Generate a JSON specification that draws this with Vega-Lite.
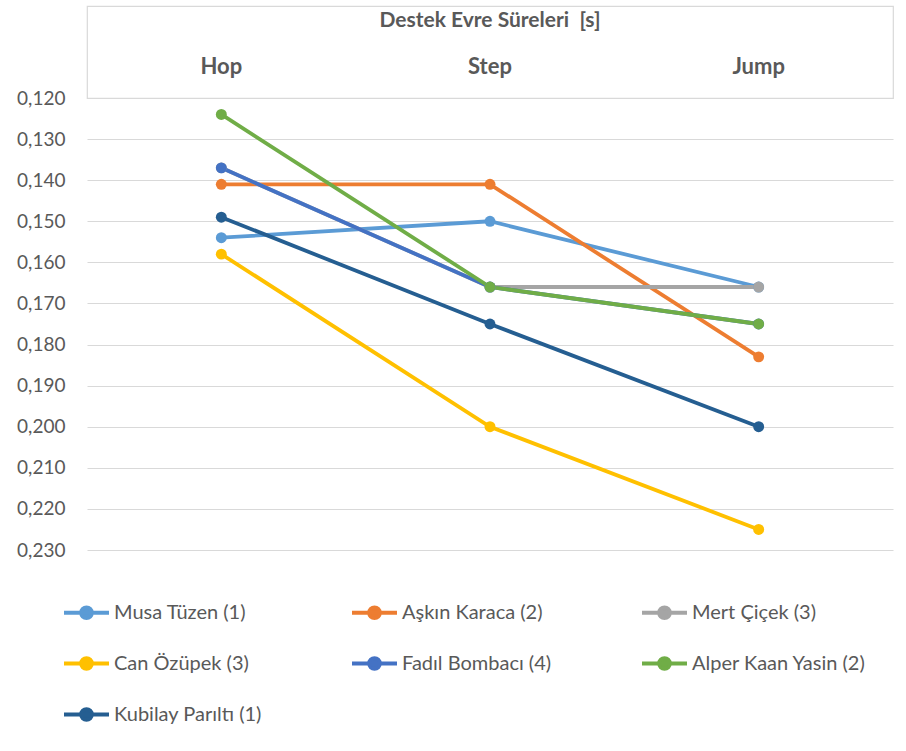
{
  "$schema": "https://vega.github.io/schema/vega-lite/v6.json",
  "padding": {"left": 16, "top": 5, "right": 0, "bottom": 0},
  "background": "white",
  "spacing": 0,
  "bounds": "flush",
  "config": {
    "font": "Lato",
    "view": {"stroke": null},
    "text": {"font": "Lato"}
  },
  "vconcat": [
    {
      "width": 806,
      "height": 92,
      "view": {"stroke": "#d9d9d9", "strokeWidth": 1.2},
      "title": {"text": "Destek Evre Süreleri \u00a0[s]", "fontSize": 21, "fontWeight": "bold", "color": "#595959", "font": "Lato", "offset": -25, "anchor": "middle"},
      "data": {"values": [{"phase": "Hop"}, {"phase": "Step"}, {"phase": "Jump"}]},
      "mark": {"type": "text", "fontSize": 22, "fontWeight": "bold", "color": "#595959", "dy": 15},
      "encoding": {
        "x": {"field": "phase", "type": "nominal", "sort": ["Hop", "Step", "Jump"], "scale": {"type": "point", "padding": 0.5}, "axis": null},
        "text": {"field": "phase"}
      }
    },
    {
      "width": 806,
      "height": 452,
      "data": {"values": [
        {"athlete": "Musa Tüzen (1)", "phase": "Hop", "value": 0.154},
        {"athlete": "Musa Tüzen (1)", "phase": "Step", "value": 0.150},
        {"athlete": "Musa Tüzen (1)", "phase": "Jump", "value": 0.166},
        {"athlete": "Aşkın Karaca (2)", "phase": "Hop", "value": 0.141},
        {"athlete": "Aşkın Karaca (2)", "phase": "Step", "value": 0.141},
        {"athlete": "Aşkın Karaca (2)", "phase": "Jump", "value": 0.183},
        {"athlete": "Mert Çiçek (3)", "phase": "Hop", "value": 0.137},
        {"athlete": "Mert Çiçek (3)", "phase": "Step", "value": 0.166},
        {"athlete": "Mert Çiçek (3)", "phase": "Jump", "value": 0.166},
        {"athlete": "Can Özüpek (3)", "phase": "Hop", "value": 0.158},
        {"athlete": "Can Özüpek (3)", "phase": "Step", "value": 0.200},
        {"athlete": "Can Özüpek (3)", "phase": "Jump", "value": 0.225},
        {"athlete": "Fadıl Bombacı (4)", "phase": "Hop", "value": 0.137},
        {"athlete": "Fadıl Bombacı (4)", "phase": "Step", "value": 0.166},
        {"athlete": "Fadıl Bombacı (4)", "phase": "Jump", "value": 0.175},
        {"athlete": "Alper Kaan Yasin (2)", "phase": "Hop", "value": 0.124},
        {"athlete": "Alper Kaan Yasin (2)", "phase": "Step", "value": 0.166},
        {"athlete": "Alper Kaan Yasin (2)", "phase": "Jump", "value": 0.175},
        {"athlete": "Kubilay Parıltı (1)", "phase": "Hop", "value": 0.149},
        {"athlete": "Kubilay Parıltı (1)", "phase": "Step", "value": 0.175},
        {"athlete": "Kubilay Parıltı (1)", "phase": "Jump", "value": 0.200}
      ]},
      "mark": {"type": "line", "strokeWidth": 3.8, "point": {"filled": true, "size": 120, "opacity": 1}},
      "encoding": {
        "x": {"field": "phase", "type": "nominal", "sort": ["Hop", "Step", "Jump"], "scale": {"type": "point", "padding": 0.5}, "axis": null},
        "y": {
          "field": "value", "type": "quantitative",
          "scale": {"domain": [0.12, 0.23], "reverse": true, "nice": false, "zero": false},
          "axis": {
            "values": [0.12, 0.13, 0.14, 0.15, 0.16, 0.17, 0.18, 0.19, 0.2, 0.21, 0.22, 0.23],
            "labelExpr": "replace(format(datum.value, '.3f'), '.', ',')",
            "domain": false, "ticks": false, "grid": true, "gridColor": "#d9d9d9", "gridWidth": 1.2,
            "labelFontSize": 19, "labelColor": "#595959", "labelFont": "Lato", "labelPadding": 22, "title": null
          }
        },
        "color": {
          "field": "athlete", "type": "nominal",
          "scale": {
            "domain": ["Musa Tüzen (1)", "Aşkın Karaca (2)", "Mert Çiçek (3)", "Can Özüpek (3)", "Fadıl Bombacı (4)", "Alper Kaan Yasin (2)", "Kubilay Parıltı (1)"],
            "range": ["#5B9BD5", "#ED7D31", "#A5A5A5", "#FFC000", "#4472C4", "#70AD47", "#255E91"]
          },
          "legend": {
            "orient": "none", "legendX": -25, "legendY": 582, "direction": "horizontal", "columns": 3,
            "title": null, "padding": 0,
            "symbolType": "M-1,0H1M0.24,0A0.24,0.24,0,1,1,-0.24,0A0.24,0.24,0,1,1,0.24,0Z",
            "symbolSize": 2025, "symbolStrokeWidth": 3.8,
            "labelFontSize": 20, "labelColor": "#595959", "labelFont": "Lato", "labelOffset": 3, "labelLimit": 400,
            "rowPadding": 13, "columnPadding": 82,
            "encode": {"symbols": {"update": {"fill": {"scale": "color", "field": "value"}, "opacity": {"value": 1}}}}
          }
        }
      }
    }
  ]
}
